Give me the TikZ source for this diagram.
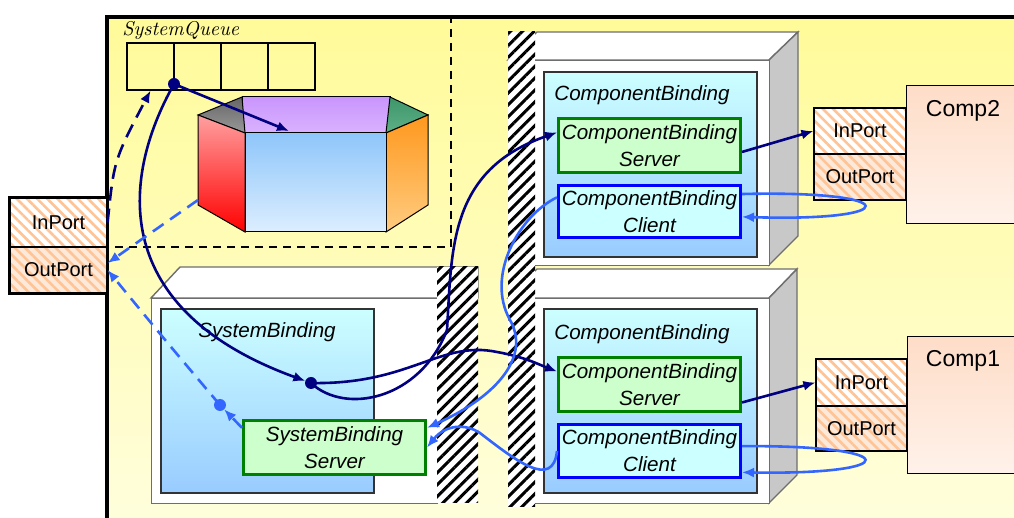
\documentclass[tikz,border=0pt]{standalone}
\usepackage{fontspec}
\setsansfont{Liberation Sans}
\usepackage{tikz}
\usetikzlibrary{arrows.meta,patterns.meta}
\usepackage{xcolor}

\definecolor{sysyel}{RGB}{255,251,153}
\definecolor{syslight}{RGB}{255,254,222}
\definecolor{porthatch}{RGB}{255,196,150}
\definecolor{portpeach}{RGB}{253,233,218}
\definecolor{bindtop}{RGB}{204,255,255}
\definecolor{bindbot}{RGB}{153,204,255}
\definecolor{srvgreen}{RGB}{0,128,0}
\definecolor{srvfill}{RGB}{204,255,204}
\definecolor{cliblue}{RGB}{0,0,255}
\definecolor{clifill}{RGB}{204,255,255}
\definecolor{qnavy}{RGB}{0,0,128}
\definecolor{ltblue}{RGB}{51,102,255}
\definecolor{comptop}{RGB}{254,221,200}
\definecolor{compbot}{RGB}{255,242,234}
\definecolor{sidegray}{RGB}{200,200,200}
\definecolor{boxgray}{RGB}{110,110,110}

\begin{document}
\begin{tikzpicture}[x=0.5pt, y=-0.5pt, font=\sffamily]
\tikzset{>={Latex[length=6pt,width=5pt]}}
\tikzset{sysbox/.style={draw, line width=2pt, top color=sysyel, bottom color=syslight, inner sep=0pt, anchor=north west} }
\tikzset{qcell/.style={draw, line width=0.6pt, minimum size=23.5pt, inner sep=0pt} }
\tikzset{portnode/.style={draw, line width=0.6pt, inner sep=0pt, minimum width=46pt, minimum height=23pt, font=\sffamily\fontsize{10}{12}\selectfont,
    preaction={fill=#1}, preaction={pattern={Lines[angle=-45,distance=3.6pt,line width=1.3pt]}, pattern color=porthatch}},
  portnode/.default=white}
\tikzset{compnode/.style={draw, line width=0.6pt, top color=comptop, bottom color=compbot, inner sep=0pt, anchor=north west, minimum width=62pt} }
\tikzset{boxface/.style={draw=boxgray, line width=0.7pt, fill=white, inner sep=0pt, anchor=north west, minimum width=#1, minimum height=102.5pt} }
\tikzset{boxline/.style={draw=boxgray, line width=0.7pt} }
\tikzset{hatchband/.style={fill=white, postaction={pattern={Lines[angle=45,distance=4.2pt,line width=1.5pt]}, pattern color=black}} }
\tikzset{bindbox/.style={draw=black!80, line width=0.6pt, top color=bindtop, bottom color=bindbot, inner sep=0pt, minimum width=106.5pt} }
\tikzset{bindtext/.style={inner sep=0pt, font=\sffamily\itshape\fontsize{10.3}{13.5}\selectfont} }
\tikzset{server/.style={draw=srvgreen, line width=1.5pt, fill=srvfill, inner sep=0pt, minimum width=91pt, minimum height=27pt, align=center, font=\sffamily\itshape\fontsize{10.3}{13.5}\selectfont} }
\tikzset{client/.style={server, draw=cliblue, fill=clifill, minimum height=#1}, client/.default=26pt}
\tikzset{syncline/.style={draw=qnavy, line width=1.3pt}, syncdash/.style={syncline, dash pattern=on 7pt off 4pt} }
\tikzset{asyncline/.style={draw=ltblue, line width=1.3pt}, asyncdash/.style={asyncline, dash pattern=on 6.5pt off 4pt} }

\useasboundingbox (0,0) rectangle (1014,518);
\clip (0,0) rectangle (1014,518);

\node[sysbox, minimum width=465pt, minimum height=260pt] (sys) at (105,15) {};

% queue area
\draw[dash pattern=on 4pt off 3pt, line width=0.6pt] (451,15) -- (451,247) -- (107,247);
\node[anchor=west, inner sep=0pt, font=\rmfamily\itshape\fontsize{10}{12}\selectfont] (qlab) at (122,31) {SystemQueue};
\foreach \i in {1,...,4}
  \node[qcell] (q\i) at ({103.5+47*\i},66.5) {};

% the tub
\shadedraw[line width=0.5pt, top color={rgb,255:red,200;green,150;blue,252}, bottom color={rgb,255:red,218;green,178;blue,255}] (242,97) rectangle (390,133);
\shadedraw[line width=0.5pt, top color=black!60, bottom color=black!40] (198,115) -- (242,97) -- (245,133) -- cycle;
\shadedraw[line width=0.5pt, top color={rgb,255:red,60;green,150;blue,105}, bottom color={rgb,255:red,95;green,175;blue,135}] (390,97) -- (428,115) -- (386,133) -- cycle;
\shadedraw[line width=0.5pt, top color={rgb,255:red,255;green,160;blue,160}, bottom color=red] (198,115) -- (245,133) -- (245,232) -- (198,205) -- cycle;
\shadedraw[line width=0.5pt, top color={rgb,255:red,255;green,152;blue,30}, bottom color={rgb,255:red,255;green,204;blue,128}] (386,133) -- (428,115) -- (428,205) -- (386,232) -- cycle;
\shadedraw[line width=0.5pt, top color={rgb,255:red,142;green,198;blue,250}, bottom color={rgb,255:red,221;green,238;blue,255}] (245,133) rectangle (386,232);
\coordinate (tubtop) at (289,131);
\coordinate (tubleft) at (198,200);

% system binding
\draw[boxline, fill=white] (151,298) -- (180,267) -- (478,267) -- (478,298) -- cycle;
\node[boxface=143pt] (sbbox) at (151,298) {};
\path[hatchband] (437,267) rectangle (478,503);
\node[bindbox, minimum height=92pt] (sbind) at (267.5,401) {};
\node[bindtext] (sblab) at (267,332) {SystemBinding};
\node[server] (sbsrv) at (334.5,447.5) {SystemBinding\\Server};

% component bindings
\draw[boxline, fill=white] (508,60) -- (537,32) -- (798,32) -- (769,60) -- cycle;
\draw[boxline, fill=sidegray] (769,60) -- (798,32) -- (798,236) -- (769,265) -- cycle;
\node[boxface=130.5pt] (cbbox2) at (508,60) {};
\draw[boxline, fill=white] (508,298) -- (537,269) -- (797,269) -- (769,298) -- cycle;
\draw[boxline, fill=sidegray] (769,298) -- (797,269) -- (797,475) -- (769,503) -- cycle;
\node[boxface=130.5pt] (cbbox1) at (508,298) {};
\path[hatchband] (508,32) rectangle (535,507);

\node[bindbox, minimum height=92.5pt] (cbind2) at (650.5,164.5) {};
\node[bindtext] (cblab2) at (642,95) {ComponentBinding};
\node[server] (srv2) at (649.5,145.5) {ComponentBinding\\Server};
\node[client] (cli2) at (649.5,212) {ComponentBinding\\Client};

\node[bindbox, minimum height=92pt] (cbind1) at (650.5,401) {};
\node[bindtext] (cblab1) at (642,334) {ComponentBinding};
\node[server] (srv1) at (649.5,384.5) {ComponentBinding\\Server};
\node[client=26.5pt] (cli1) at (649.5,451) {ComponentBinding\\Client};

% ports and components
\node[portnode, minimum width=48.5pt, minimum height=24.5pt] (inP) at (58.5,222.5) {InPort};
\node[portnode=portpeach, minimum width=48.5pt] (outP) at (58.5,270) {OutPort};
\draw[line width=1.8pt] (inP.north west) rectangle (outP.south east);

\node[compnode, minimum height=69pt] (comp2) at (906,85) {};
\node[font=\sffamily\fontsize{11.5}{13}\selectfont, inner sep=0pt] (c2lab) at (963,111) {Comp2};
\node[portnode] (inP2) at (860,131) {InPort};
\node[portnode=portpeach] (outP2) at (860,177) {OutPort};

\node[compnode, minimum height=68.5pt] (comp1) at (907,336) {};
\node[font=\sffamily\fontsize{11.5}{13}\selectfont, inner sep=0pt] (c1lab) at (963,361) {Comp1};
\node[portnode, minimum width=45.5pt, minimum height=23.5pt] (inP1) at (861.5,382.5) {InPort};
\node[portnode=portpeach, minimum width=45.5pt, minimum height=22.5pt] (outP1) at (861.5,428.5) {OutPort};

% calls
\coordinate (qdot) at (174,84);
\coordinate (sbdot) at (311,383);
\coordinate (sbball) at (220,405);
\draw[syncline, ->] (qdot) -- (tubtop);
\draw[syncline, ->, shorten >=3pt] (qdot) .. controls (120,180) and (110,310) .. (sbdot);
\draw[syncline, ->] (sbdot) .. controls (410,385) and (440,340) .. (497,352) .. controls (525,357) and (540,365) .. (srv1.172);
\draw[syncline, ->] (sbdot) .. controls (345,415) and (420,400) .. (447,330) .. controls (452,250) and (448,170) .. (srv2.172);
\draw[syncline, ->] (srv2.-4) -- (inP2.west);
\draw[syncline, ->] (srv1.-11) -- (inP1.west);
\draw[syncdash, ->] (inP.east) .. controls (114,160) .. (q1.south);

% replies
\draw[asyncdash, ->] (tubleft) -- (outP.8);
\draw[asyncdash, ->, shorten >=3pt] (sbsrv.168) -- (sbball);
\draw[asyncdash, ->] (sbball) .. controls (165,340) .. (outP.east);
\draw[asyncline, ->] (cli2.171) .. controls (520,215) and (485,275) .. (510,320) .. controls (530,355) and (500,395) .. (sbsrv.12);
\draw[asyncline, ->] (cli1.west) .. controls (553,490) and (515,460) .. (480,433) .. controls (465,423) and (445,425) .. (sbsrv.east);
\draw[asyncline, ->] (cli2.11) .. controls (905,190) and (905,222) .. (cli2.-3);
\draw[asyncline, ->] (cli1.3) .. controls (905,445) and (905,475) .. (cli1.-13);

\fill[qnavy] (qdot) circle (3pt);
\fill[qnavy] (sbdot) circle (3pt);
\fill[ltblue] (sbball) circle (3pt);
\end{tikzpicture}
\end{document}
